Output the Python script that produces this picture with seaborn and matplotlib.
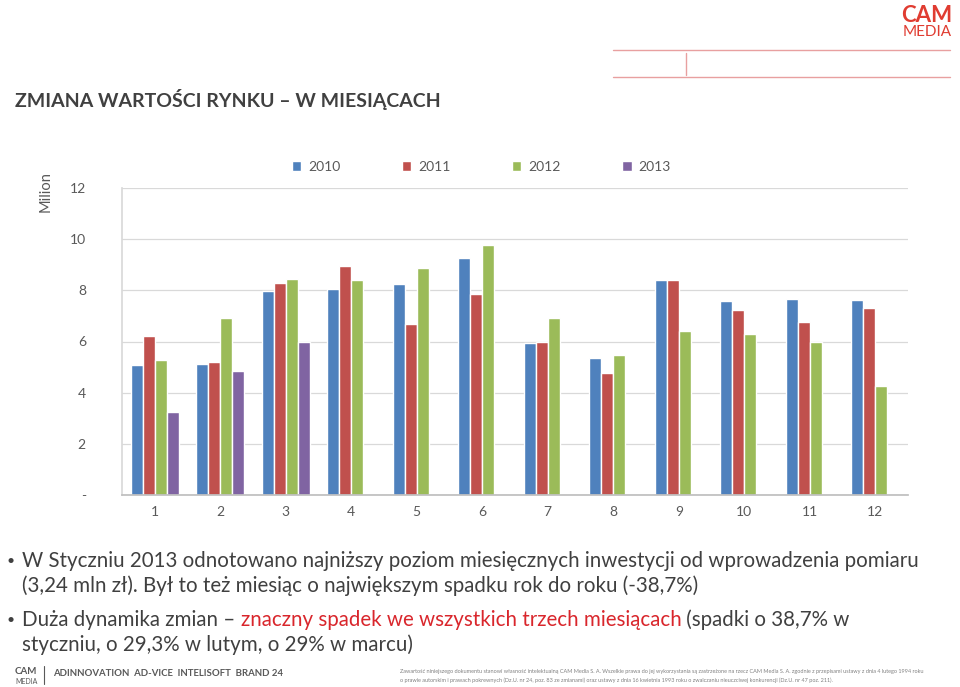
import numpy as np
import pandas as pd
import seaborn as sns
import matplotlib.pyplot as plt

# data (million zł)
months = [str(m) for m in range(1, 13)]
years = ["2010", "2011", "2012", "2013"]
v2010 = [5.08, 5.12, 7.99, 8.04, 8.24, 9.27, 5.96, 5.36, 8.42, 7.57, 7.65, 7.64]
v2011 = [6.22, 5.20, 8.29, 8.95, 6.69, 7.86, 5.99, 4.76, 8.42, 7.22, 6.75, 7.30]
v2012 = [5.28, 6.91, 8.44, 8.42, 8.87, 9.77, 6.92, 5.46, 6.42, 6.28, 5.99, 4.26]
v2013 = [3.24, 4.86, 5.98] + [np.nan] * 9
ytick_labels = ["-", "2", "4", "6", "8", "10", "12"]

colors = ["#4F81BD", "#C0504D", "#9BBB59", "#8064A2"]
grey = "#595959"

df = pd.DataFrame({
    "month": months * 4,
    "year": [y for y in years for _ in months],
    "value": v2010 + v2011 + v2012 + v2013,
})

sns.set_theme(style="white")
plt.rcParams['font.family'] = ['Lato', 'DejaVu Sans']

fig = plt.figure(figsize=(9.6, 6.87), dpi=100)
ax = fig.add_axes([122 / 960, 1 - 495 / 687, 786 / 960, 307 / 687])

sns.barplot(data=df, x="month", y="value", hue="year", order=months,
            hue_order=years, palette=colors, width=0.73, saturation=1,
            errorbar=None, ax=ax)

ax.set_ylim(0, 12)
ax.set_xlim(-0.5, 11.5)
ax.set_yticks(range(0, 13, 2))
ax.set_yticklabels(ytick_labels, color=grey, fontsize=10)
ax.tick_params(axis="y", length=0, pad=26)
ax.tick_params(axis="x", which="major", length=0, pad=8, labelsize=10, labelcolor=grey)
ax.set_xticks(np.arange(-0.5, 12, 1), minor=True)
ax.tick_params(axis="x", which="minor", length=5, color="#BFBFBF", width=0.8, direction="out")
ax.grid(axis="y", color="#D9D9D9", linewidth=0.9)
ax.set_axisbelow(True)
for s in ["top", "right"]:
    ax.spines[s].set_visible(False)
ax.spines["left"].set_color("#D9D9D9")
ax.spines["bottom"].set_color("#BFBFBF")
ax.set_xlabel("")
ax.set_ylabel("Milion", color=grey, fontsize=10.5)
ax.yaxis.set_label_coords(-0.088, 0.99)

ax.legend(loc="center", bbox_to_anchor=(0.457, 1.07), ncol=4, frameon=False,
          fontsize=10, handlelength=0.7, handleheight=0.7, columnspacing=4.4,
          handletextpad=0.5, labelcolor=grey)

# title and header decoration
fig.text(15 / 960, 1 - 100 / 687, "ZMIANA WARTOŚCI RYNKU – W MIESIĄCACH",
         fontsize=14, color="#404040", va="center", fontweight="bold")
fig.text(952 / 960, 1 - 15 / 687, "CAM", fontsize=16, color="#E03C31",
         ha="right", va="center", fontweight="bold")
fig.text(952 / 960, 1 - 32 / 687, "MEDIA", fontsize=11, color="#E03C31",
         ha="right", va="center")
red_line = "#E8A0A0"
fig.add_artist(plt.Line2D([613 / 960, 950 / 960], [1 - 50 / 687] * 2, color=red_line, lw=1))
fig.add_artist(plt.Line2D([613 / 960, 950 / 960], [1 - 77 / 687] * 2, color=red_line, lw=1))
fig.add_artist(plt.Line2D([686 / 960] * 2, [1 - 53 / 687, 1 - 75 / 687], color=red_line, lw=1))

# bullets
body = "#404040"
fs = 14.8
fig.text(7 / 960, 1 - 561 / 687, "•", fontsize=10, color=body, va="center")
fig.text(22 / 960, 1 - 561 / 687,
         "W Styczniu 2013 odnotowano najniższy poziom miesięcznych inwestycji od wprowadzenia pomiaru",
         fontsize=fs, color=body, va="center")
fig.text(22 / 960, 1 - 586 / 687,
         "(3,24 mln zł). Był to też miesiąc o największym spadku rok do roku (-38,7%)",
         fontsize=fs, color=body, va="center")
fig.text(7 / 960, 1 - 620 / 687, "•", fontsize=10, color=body, va="center")

renderer = fig.canvas.get_renderer()
pieces = [("Duża dynamika zmian – ", body),
          ("znaczny spadek we wszystkich trzech miesiącach", "#D9262C"),
          (" (spadki o 38,7% w", body)]
x = 22
for txt, col in pieces:
    t = fig.text(x / 960, 1 - 620 / 687, txt, fontsize=fs, color=col, va="center")
    x += t.get_window_extent(renderer).width
fig.text(22 / 960, 1 - 645 / 687, "styczniu, o 29,3% w lutym, o 29% w marcu)",
         fontsize=fs, color=body, va="center")

# footer
fig.text(15 / 960, 1 - 671 / 687, "CAM", fontsize=7, color=grey, va="center", fontweight="bold")
fig.text(15 / 960, 1 - 681 / 687, "MEDIA", fontsize=5, color=grey, va="center")
fig.add_artist(plt.Line2D([44 / 960] * 2, [1 - 666 / 687, 1 - 684 / 687], color=grey, lw=0.8))
fig.text(53 / 960, 1 - 673 / 687, "ADINNOVATION  AD-VICE  INTELISOFT  BRAND 24",
         fontsize=6.9, color=grey, va="center", fontweight="bold")
fig.text(400 / 960, 1 - 672 / 687,
         "Zawartość niniejszego dokumentu stanowi własność intelektualną CAM Media S. A. Wszelkie prawa do jej wykorzystania są zastrzeżone na rzecz CAM Media S. A. zgodnie z przepisami ustawy z dnia 4 lutego 1994 roku",
         fontsize=3.95, color="#808080", va="center")
fig.text(400 / 960, 1 - 680 / 687,
         "o prawie autorskim i prawach pokrewnych (Dz.U. nr 24, poz. 83 ze zmianami) oraz ustawy z dnia 16 kwietnia 1993 roku o zwalczaniu nieuczciwej konkurencji (Dz.U. nr 47 poz. 211).",
         fontsize=3.95, color="#808080", va="center")

fig.savefig("out.png", dpi=100)
